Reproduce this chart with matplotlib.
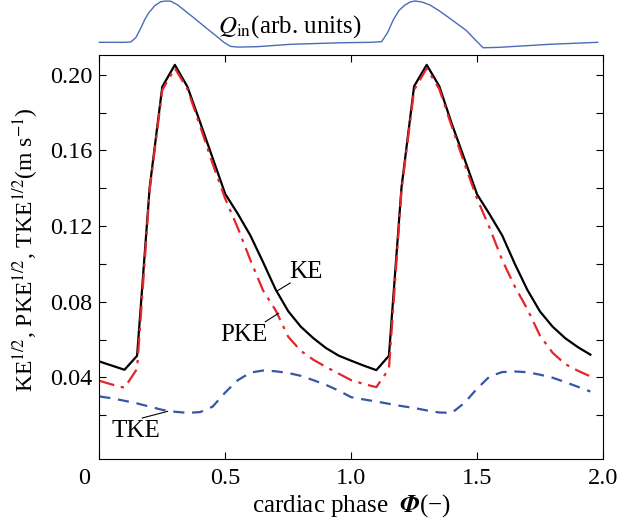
import matplotlib
matplotlib.use("Agg")
import matplotlib.pyplot as plt
from matplotlib.transforms import ScaledTranslation

plt.rcParams['font.family'] = ['Liberation Serif', 'DejaVu Serif']
plt.rcParams['mathtext.fontset'] = 'stix'

# cardiac phase, sampled every 0.05
phase = [0.00, 0.05, 0.10, 0.15, 0.20, 0.25, 0.30, 0.35, 0.40, 0.45,
         0.50, 0.55, 0.60, 0.65, 0.70, 0.75, 0.80, 0.85, 0.90, 0.95,
         1.00, 1.05, 1.10, 1.15, 1.20, 1.25, 1.30, 1.35, 1.40, 1.45,
         1.50, 1.55, 1.60, 1.65, 1.70, 1.75, 1.80, 1.85, 1.90, 1.95]

ke = [0.0484, 0.0462, 0.0440, 0.0514, 0.1405, 0.1937, 0.2053, 0.1937, 0.1750, 0.1560,
      0.1370, 0.1265, 0.1150, 0.1010, 0.0865, 0.0750, 0.0668, 0.0607, 0.0555, 0.0515,
      0.0488, 0.0462, 0.0438, 0.0514, 0.1405, 0.1940, 0.2053, 0.1940, 0.1740, 0.1555,
      0.1368, 0.1262, 0.1150, 0.1000, 0.0862, 0.0748, 0.0668, 0.0607, 0.0560, 0.0520]

pke = [0.0382, 0.0362, 0.0345, 0.0445, 0.1390, 0.1920, 0.2035, 0.1925, 0.1730, 0.1530,
       0.1345, 0.1190, 0.1020, 0.0860, 0.0755, 0.0615, 0.0540, 0.0493, 0.0455, 0.0420,
       0.0385, 0.0365, 0.0348, 0.0445, 0.1390, 0.1920, 0.2035, 0.1925, 0.1725, 0.1530,
       0.1345, 0.1190, 0.1020, 0.0880, 0.0760, 0.0620, 0.0530, 0.0470, 0.0435, 0.0405]

tke = [0.0299, 0.0289, 0.0276, 0.0262, 0.0245, 0.0228, 0.0218, 0.0212, 0.0216, 0.0245,
       0.0320, 0.0385, 0.0425, 0.0436, 0.0432, 0.0423, 0.0408, 0.0385, 0.0360, 0.0330,
       0.0295, 0.0283, 0.0272, 0.0260, 0.0248, 0.0238, 0.0225, 0.0214, 0.0212, 0.0265,
       0.0340, 0.0405, 0.0428, 0.0431, 0.0427, 0.0414, 0.0398, 0.0375, 0.0350, 0.0325]

# inflow rate (arbitrary units) for the top strip
q_phase = [0.000, 0.100, 0.125, 0.145, 0.165, 0.180, 0.196, 0.220, 0.244, 0.265,
           0.284, 0.310, 0.336, 0.370, 0.402, 0.435, 0.468, 0.495, 0.521, 0.550,
           0.627, 0.759, 0.968, 1.080, 1.121, 1.145, 1.167, 1.190, 1.214, 1.235,
           1.253, 1.280, 1.313, 1.350, 1.392, 1.425, 1.458, 1.490, 1.524, 1.590,
           1.788, 1.979]
q_flow = [0.121, 0.121, 0.128, 0.220, 0.426, 0.600, 0.745, 0.900, 0.985, 1.000,
          0.995, 0.920, 0.810, 0.665, 0.525, 0.380, 0.240, 0.120, 0.035, 0.020,
          0.028, 0.079, 0.113, 0.121, 0.135, 0.330, 0.596, 0.800, 0.915, 0.980,
          1.000, 0.980, 0.915, 0.790, 0.630, 0.500, 0.370, 0.190, 0.005, 0.015,
          0.079, 0.121]

x_ticks = [0, 0.5, 1.0, 1.5, 2.0]
x_ticklabels = ['0', '0.5', '1.0', '1.5', '2.0']
y_ticks = [0.04, 0.08, 0.12, 0.16, 0.20]

red = '#e4262b'
blue = '#3656a8'

fig = plt.figure(figsize=(6.18, 5.23), dpi=100)
ax = fig.add_axes([0.1607, 0.1231, 0.8150, 0.7717])

ax.plot(phase, ke, color='black', lw=1.6)
ax.plot(phase, pke, color=red, lw=1.6, dashes=(7, 3, 1.5, 3))
ax.plot(phase, tke, color=blue, lw=1.6, dashes=(5, 3.5))

ax.set_xlim(0, 2.0)
ax.set_ylim(-0.003, 0.2105)
ax.set_xticks(x_ticks)
ax.set_xticklabels(x_ticklabels)
ax.set_yticks(y_ticks)
ax.set_yticklabels(['%.2f' % v for v in y_ticks])
ax.set_yticks([0.02, 0.06, 0.10, 0.14, 0.18], minor=True)
ax.tick_params(which='both', direction='in', top=True, right=True,
               length=5, width=0.8, labelsize=17.5)
ax.tick_params(axis='x', pad=7)
ax.tick_params(axis='y', pad=5)
for s in ax.spines.values():
    s.set_linewidth(0.8)

# shift the "0" label left like in the original
lab0 = ax.get_xticklabels()[0]
lab0.set_transform(lab0.get_transform() + ScaledTranslation(-0.15, 0, fig.dpi_scale_trans))

ax.set_xlabel(r'cardiac phase  $\mathbfit{\Phi}$(−)', fontsize=18, labelpad=2)
ax.set_ylabel(r'KE$^{1/2}$, PKE$^{1/2}$, TKE$^{1/2}$(m s$^{-1}$)', fontsize=17, labelpad=2)
ax.yaxis.set_label_coords(-0.115, 0.517)

# curve labels with leader lines
ax.text(0.819, 0.0958, 'KE', fontsize=18, ha='center', va='center')
ax.plot([0.758, 0.706], [0.0899, 0.0857], color='black', lw=0.8)
ax.text(0.574, 0.0625, 'PKE', fontsize=18, ha='center', va='center')
ax.plot([0.659, 0.712], [0.0694, 0.0739], color='black', lw=0.8)
ax.text(0.145, 0.0115, 'TKE', fontsize=18, ha='center', va='center')
ax.plot([0.171, 0.271], [0.0185, 0.0220], color='black', lw=0.8)

# inflow strip on top
axq = fig.add_axes([0.1607, 0.9082, 0.8150, 0.0899])
axq.plot(q_phase, q_flow, color='#4a6cb8', lw=1.0, clip_on=False)
axq.set_xlim(0, 2.0)
axq.set_ylim(0, 1)
axq.axis('off')
axq.text(0.755, 0.45, r'$Q_{\rm in}$(arb. units)', fontsize=18, ha='center', va='center')

fig.savefig('out.png', dpi=100)
